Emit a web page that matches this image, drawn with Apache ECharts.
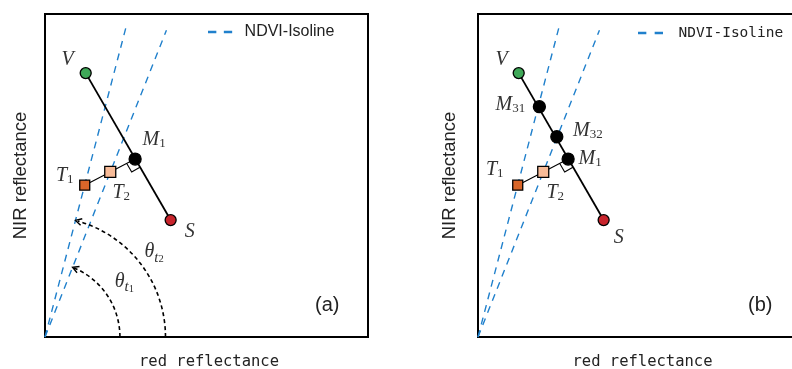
<!DOCTYPE html>
<html>
<head>
<meta charset="utf-8">
<script src="https://cdn.jsdelivr.net/npm/echarts@6/dist/echarts.min.js"></script>
<style>html,body{margin:0;padding:0;background:#fff;}#c{width:792px;height:369px;}</style>
</head>
<body>
<div id="c"></div>
<script>
// ---- data (normalized reflectance, 0..1 on both axes) ----
const isoline1 = [[0, 0], [0.251, 0.960]];   // NDVI isoline through T1
const isoline2 = [[0, 0], [0.376, 0.950]];   // NDVI isoline through T2
const pointV   = [0.126, 0.817];
const pointS   = [0.389, 0.362];
const pointM1  = [0.279, 0.551];
const pointM31 = [0.190, 0.713];
const pointM32 = [0.244, 0.620];
const pointT1  = [0.123, 0.470];
const pointT2  = [0.202, 0.511];
const arcRadii = [0.232, 0.373];            // theta_t1, theta_t2 arcs
const arcTargets = [isoline2, isoline1];    // isoline each arc ends on
const arcLabels = ['{i|θ}{si|t}{ss|1}', '{i|θ}{si|t}{ss|2}'];
const axisNameX = 'red reflectance';
const axisNameY = 'NIR reflectance';
const legendName = 'NDVI-Isoline';
const panelLabels = ['(a)', '(b)'];

// ---- styles ----
const BLUE = '#2080cc';
const MATH = '#333';
const SERIF = 'Liberation Serif';
const rich = {
  i:  {fontFamily: SERIF, fontStyle: 'italic', fontSize: 20, lineHeight: 20, color: MATH},
  s:  {fontFamily: SERIF, fontSize: 13, lineHeight: 12, verticalAlign: 'bottom', color: MATH},
  si: {fontFamily: SERIF, fontStyle: 'italic', fontSize: 15, lineHeight: 14, verticalAlign: 'bottom', color: MATH},
  ss: {fontFamily: SERIF, fontSize: 10.5, lineHeight: 9, verticalAlign: 'bottom', color: MATH}
};
const richTheta = Object.assign({}, rich, {i: Object.assign({}, rich.i, {lineHeight: 27})});

function unit(a, b) { const dx = a[0]-b[0], dy = a[1]-b[1]; const l = Math.hypot(dx, dy); return [dx/l, dy/l]; }

function lineSeries(p, data, name, style, z) {
  return {type: 'line', name: name, xAxisIndex: p, yAxisIndex: p, data: data, symbol: 'none',
    color: style.color, lineStyle: style, silent: true, z: z, animation: false};
}

function pointSeries(p, value, symbol, size, color, text, dx, dy) {
  return {type: 'scatter', xAxisIndex: p, yAxisIndex: p, symbol: symbol, symbolSize: size, z: 6,
    silent: true, animation: false,
    itemStyle: {color: color, borderColor: '#000', borderWidth: 1.3, opacity: 1},
    data: [{value: value, label: {show: true, position: 'inside', offset: [dx, dy], formatter: text,
      rich: rich, color: MATH, textBorderWidth: 0}}]};
}

function rightAngleSeries(p) {
  return {type: 'custom', xAxisIndex: p, yAxisIndex: p, z: 5, silent: true, animation: false,
    data: [[pointM1[0], pointM1[1], pointS[0], pointS[1], pointT2[0], pointT2[1]]],
    renderItem: function (params, api) {
      const m = api.coord([api.value(0), api.value(1)]);
      const s = api.coord([api.value(2), api.value(3)]);
      const t = api.coord([api.value(4), api.value(5)]);
      const u = unit(s, m);
      let v = [u[1], -u[0]];
      const tt = unit(t, m);
      if (v[0]*tt[0] + v[1]*tt[1] < 0) v = [-v[0], -v[1]];
      const a = 9.5;
      const A = [m[0]+v[0]*a, m[1]+v[1]*a];
      const B = [m[0]+u[0]*a, m[1]+u[1]*a];
      const C = [A[0]+u[0]*a, A[1]+u[1]*a];
      return {type: 'polyline', shape: {points: [A, C, B]}, style: {stroke: '#000', lineWidth: 1.1, fill: null}};
    }};
}

const arcLabelAngle = [35, 38];
const arcLabelGap = [22, 18];
function arcSeries(p) {
  return {type: 'custom', xAxisIndex: p, yAxisIndex: p, z: 5, silent: true, animation: false,
    data: arcRadii.map(function (r, i) { return [r, arcTargets[i][1][0], arcTargets[i][1][1], i]; }),
    renderItem: function (params, api) {
      const c = api.coord([0, 0]);
      const r = api.size([api.value(0), 0])[0];
      const e = api.coord([api.value(1), api.value(2)]);
      const i = api.value(3);
      const phi = Math.atan2(c[1]-e[1], e[0]-c[0]);
      const tip = [c[0] + r*Math.cos(phi), c[1] - r*Math.sin(phi)];
      const dir = [-Math.sin(phi), -Math.cos(phi)];
      const L = 7, ang = 0.5;
      function back(a) {
        const dx = dir[0]*Math.cos(a) - dir[1]*Math.sin(a);
        const dy = dir[0]*Math.sin(a) + dir[1]*Math.cos(a);
        return [tip[0] - L*dx, tip[1] - L*dy];
      }
      const la = arcLabelAngle[i] * Math.PI / 180;
      const lr = r + arcLabelGap[i];
      return {type: 'group', children: [
        {type: 'arc', shape: {cx: c[0], cy: c[1], r: r, startAngle: 0, endAngle: -phi + 0.02, clockwise: false},
          style: {stroke: '#000', lineWidth: 1.6, lineDash: [4, 3], fill: null}},
        {type: 'polyline', shape: {points: [back(ang), tip, back(-ang)]},
          style: {stroke: '#000', lineWidth: 1.4, fill: null}},
        {type: 'text', style: {text: arcLabels[i], rich: richTheta, x: c[0] + lr*Math.cos(la), y: c[1] - lr*Math.sin(la),
          align: 'center', verticalAlign: 'middle', fill: MATH}}
      ]};
    }};
}

function panelSeries(p) {
  const dash = {color: BLUE, width: 1.4, type: [7, 6]};
  const list = [
    lineSeries(p, isoline1, legendName, dash, 2),
    lineSeries(p, isoline2, legendName, dash, 2),
    lineSeries(p, [pointV, pointS], 'VS', {color: '#000', width: 1.8}, 3),
    lineSeries(p, [pointT1, pointT2, pointM1], 'TM', {color: '#000', width: 1.1}, 3),
    rightAngleSeries(p)
  ];
  if (p === 0) {
    list.push(arcSeries(p));
    list.push(pointSeries(p, pointV, 'circle', 11, '#3fa858', '{i|V}', -18, -13));
    list.push(pointSeries(p, pointM1, 'circle', 12, '#000', '{i|M}{s|1}', 19, -19));
    list.push(pointSeries(p, pointS, 'circle', 11, '#c8242c', '{i|S}', 19, 12));
    list.push(pointSeries(p, pointT1, 'rect', 10, '#d9662a', '{i|T}{s|1}', -20, -9));
    list.push(pointSeries(p, pointT2, 'rect', 11, '#f7bb98', '{i|T}{s|2}', 11, 21));
  } else {
    list.push(pointSeries(p, pointV, 'circle', 11, '#3fa858', '{i|V}', -17, -13));
    list.push(pointSeries(p, pointM31, 'circle', 12, '#000', '{i|M}{s|31}', -29, -2));
    list.push(pointSeries(p, pointM32, 'circle', 12, '#000', '{i|M}{s|32}', 31, -6));
    list.push(pointSeries(p, pointM1, 'circle', 12, '#000', '{i|M}{s|1}', 22, 0));
    list.push(pointSeries(p, pointS, 'circle', 11, '#c8242c', '{i|S}', 15, 18));
    list.push(pointSeries(p, pointT1, 'rect', 10, '#d9662a', '{i|T}{s|1}', -23, -15));
    list.push(pointSeries(p, pointT2, 'rect', 11, '#f7bb98', '{i|T}{s|2}', 12, 21));
  }
  return list;
}

function xAxis(p) {
  return {type: 'value', gridIndex: p, min: 0, max: 1, axisLine: {show: false}, axisTick: {show: false},
    axisLabel: {show: false}, splitLine: {show: false},
    name: axisNameX, nameLocation: 'middle', nameGap: 17,
    nameTextStyle: {fontFamily: 'DejaVu Sans Mono', fontSize: 15.5, color: '#222', padding: [0, 0, 0, p === 0 ? 5 : 6]}};
}
function yAxis(p) {
  return {type: 'value', gridIndex: p, min: 0, max: 1, axisLine: {show: false}, axisTick: {show: false},
    axisLabel: {show: false}, splitLine: {show: false},
    name: axisNameY, nameLocation: 'middle', nameGap: p === 0 ? 15 : 19,
    nameTextStyle: {fontFamily: 'Liberation Sans', fontSize: 18.5, color: '#222'}};
}

const gridBox = {show: true, borderColor: '#000', borderWidth: 2, backgroundColor: 'transparent',
  width: 323, height: 323, top: 14, containLabel: false, outerBoundsMode: 'none'};

const option = {
  animation: false,
  backgroundColor: '#fff',
  title: [
    {text: panelLabels[0], left: 315, top: 295, padding: 0, textStyle: {fontFamily: 'Liberation Sans', fontSize: 20, fontWeight: 'normal', color: '#222'}},
    {text: panelLabels[1], left: 748, top: 295, padding: 0, textStyle: {fontFamily: 'Liberation Sans', fontSize: 20, fontWeight: 'normal', color: '#222'}}
  ],
  legend: [
    {left: 208, top: 24, padding: 0, itemWidth: 29, itemHeight: 2.5, selectedMode: false,
      icon: 'path://M0,0h10v3h-10zM19,0h10v3h-10z', data: [legendName],
      itemStyle: {color: BLUE, borderWidth: 0}, lineStyle: {width: 0},
      textStyle: {fontFamily: 'Liberation Sans', fontSize: 16, color: '#222', lineHeight: 16, padding: [0, 0, 0, 5]}},
    {left: 638, top: 25, padding: 0, itemWidth: 30, itemHeight: 2.5, selectedMode: false,
      icon: 'path://M0,0h10v3h-10zM20,0h10v3h-10z', data: [legendName],
      itemStyle: {color: BLUE, borderWidth: 0}, lineStyle: {width: 0},
      textStyle: {fontFamily: 'DejaVu Sans Mono', fontSize: 14.5, color: '#222', lineHeight: 16, padding: [0, 0, 0, 8]}}
  ],
  grid: [
    Object.assign({left: 45}, gridBox),
    Object.assign({left: 478}, gridBox)
  ],
  xAxis: [xAxis(0), xAxis(1)],
  yAxis: [yAxis(0), yAxis(1)],
  series: panelSeries(0).concat(panelSeries(1))
};

const chart = echarts.init(document.getElementById('c'), null, {renderer: 'canvas'});
chart.setOption(option);
</script>
</body>
</html>
